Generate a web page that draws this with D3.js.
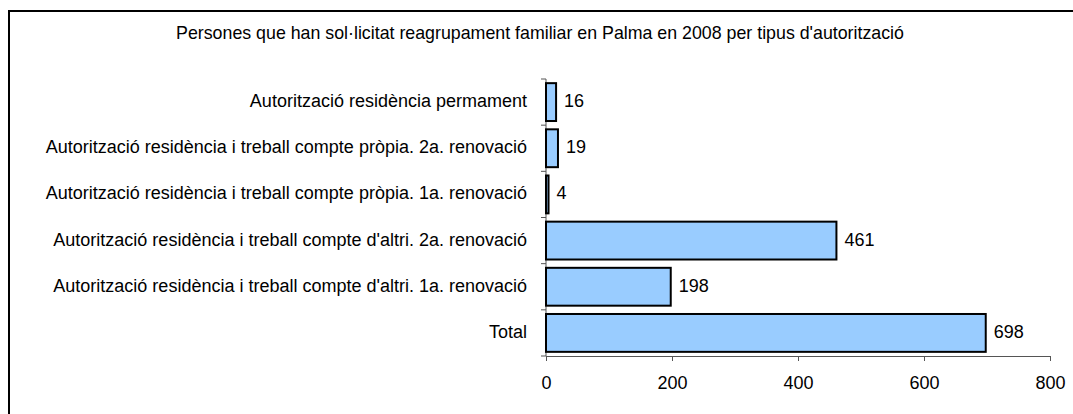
<!DOCTYPE html>
<html><head><meta charset="utf-8">
<script src="https://cdn.jsdelivr.net/npm/d3@7"></script>
<style>body{margin:0;background:#fff;}svg{display:block;font-family:"Liberation Sans",Arial,sans-serif;}</style>
</head><body>
<script>
const title = "Persones que han sol·licitat reagrupament familiar en Palma en 2008 per tipus d'autorització";
const categories = [
  "Autorització residència permament",
  "Autorització residència i treball compte pròpia. 2a. renovació",
  "Autorització residència i treball compte pròpia. 1a. renovació",
  "Autorització residència i treball compte d'altri. 2a. renovació",
  "Autorització residència i treball compte d'altri. 1a. renovació",
  "Total"
];
const values = [16, 19, 4, 461, 198, 698];
const xTicks = [0, 200, 400, 600, 800];

const W = 1073, H = 414;
const svg = d3.select("body").append("svg").attr("width", W).attr("height", H);
svg.append("rect").attr("x", 9).attr("y", 11).attr("width", 1100).attr("height", 500)
  .attr("fill", "#fff").attr("stroke", "#000").attr("stroke-width", 2);

svg.append("text").attr("x", 540).attr("y", 39).attr("text-anchor", "middle")
  .attr("font-size", 17.8).attr("fill", "#000").text(title);

const x = d3.scaleLinear().domain([0, 800]).range([546, 1050]);
const y = d3.scaleBand().domain(categories).range([79, 356]).paddingInner(0.18).paddingOuter(0.09);

const xAxis = d3.axisBottom(x).tickValues(xTicks).tickSize(5).tickPadding(15);
const gx = svg.append("g").attr("transform", "translate(0,356)").call(xAxis);
gx.select(".domain").attr("stroke", "#555");
gx.selectAll(".tick line").attr("stroke", "#555");
gx.selectAll("text").attr("font-size", 18).attr("fill", "#000").attr("font-family", "Liberation Sans, Arial, sans-serif");

// y axis with ticks at category boundaries
const yLine = svg.append("g");
yLine.append("line").attr("x1", 546).attr("x2", 546).attr("y1", 79).attr("y2", 356).attr("stroke", "#555");
const step = y.step();
const bounds = d3.range(categories.length + 1).map(i => 79 + i * step);
yLine.selectAll("line.t").data(bounds).join("line").attr("class", "t")
  .attr("x1", 541).attr("x2", 546).attr("y1", d => d).attr("y2", d => d).attr("stroke", "#555");

svg.selectAll("text.cat").data(categories).join("text").attr("class", "cat")
  .attr("x", 527).attr("y", d => y(d) + y.bandwidth() / 2 + 5)
  .attr("text-anchor", "end").attr("font-size", 18).attr("fill", "#000").text(d => d);

svg.selectAll("rect.bar").data(values).join("rect").attr("class", "bar")
  .attr("x", x(0)).attr("y", (d, i) => y(categories[i]))
  .attr("width", d => x(d) - x(0)).attr("height", y.bandwidth())
  .attr("fill", "#99ccff").attr("stroke", "#000").attr("stroke-width", 2);

svg.selectAll("text.val").data(values).join("text").attr("class", "val")
  .attr("x", d => x(d) + 8).attr("y", (d, i) => y(categories[i]) + y.bandwidth() / 2 + 5)
  .attr("font-size", 18).attr("fill", "#000").text(d => d);
</script>
</body></html>
